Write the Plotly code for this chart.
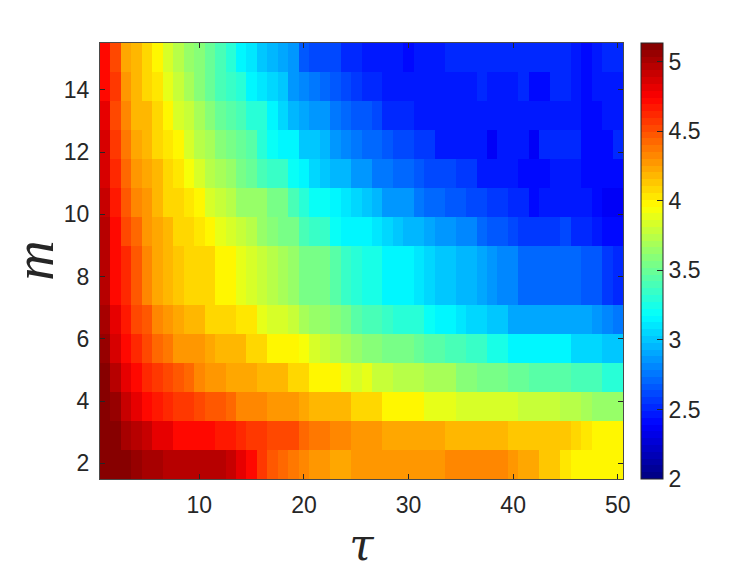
import plotly.graph_objects as go

tau = list(range(1, 51))
x_ticks = [10, 20, 30, 40, 50]
y_ticks = [2, 4, 6, 8, 10, 12, 14]
cbar_ticks = [2, 2.5, 3, 3.5, 4, 4.5, 5]
cbar_labels = ["2", "2.5", "3", "3.5", "4", "4.5", "5"]
z_min = 2.0
z_max = 5.134
y_low = 1.5
y_high = 15.5

m15 = [4.74,4.5,4.25,4.16,4.08,3.96,3.84,3.72,3.66,3.57,3.49,3.38,3.32,3.175,3.1,3.0,2.95,2.92,2.85,2.68,2.62,2.6,2.6,2.5,2.5,
       2.48,2.48,2.48,2.48,2.44,2.47,2.47,2.47,2.53,2.53,2.53,2.53,2.53,2.53,2.53,2.53,2.53,2.53,2.53,2.53,2.47,2.44,2.48,2.53,2.53]
m14 = [4.74,4.55,4.28,4.16,4.1,4.04,3.9,3.78,3.67,3.6,3.5,3.38,3.35,3.29,3.175,3.12,3.03,3.0,2.87,2.82,2.76,2.72,2.65,2.6,2.57,
       2.53,2.53,2.45,2.45,2.45,2.45,2.45,2.45,2.45,2.45,2.45,2.5,2.46,2.46,2.46,2.5,2.44,2.44,2.5,2.5,2.46,2.42,2.47,2.47,2.47]
m13 = [4.81,4.5,4.35,4.2,4.16,4.08,3.96,3.82,3.78,3.67,3.58,3.47,3.46,3.38,3.31,3.28,3.15,3.06,2.96,2.92,2.87,2.84,2.78,2.73,2.68,
       2.68,2.6,2.52,2.52,2.52,2.45,2.45,2.45,2.45,2.45,2.45,2.45,2.45,2.45,2.45,2.45,2.45,2.45,2.45,2.45,2.45,2.42,2.42,2.47,2.47]
m12 = [4.86,4.58,4.37,4.24,4.16,4.1,4.02,4.0,3.85,3.76,3.7,3.58,3.55,3.47,3.43,3.32,3.22,3.175,3.13,2.99,2.98,2.94,2.86,2.8,2.75,
       2.71,2.71,2.65,2.62,2.62,2.56,2.56,2.47,2.47,2.47,2.47,2.47,2.39,2.46,2.46,2.46,2.39,2.49,2.49,2.49,2.49,2.43,2.43,2.43,2.49]
m11 = [4.88,4.6,4.4,4.3,4.22,4.17,4.07,4.04,3.92,3.85,3.76,3.67,3.63,3.52,3.49,3.4,3.35,3.33,3.22,3.17,3.06,3.02,2.97,2.94,2.87,
       2.84,2.76,2.76,2.7,2.7,2.66,2.6,2.6,2.6,2.54,2.54,2.47,2.47,2.47,2.47,2.4,2.4,2.4,2.47,2.47,2.47,2.42,2.42,2.42,2.42]
m10 = [4.93,4.67,4.47,4.35,4.27,4.17,4.1,4.07,4.02,3.96,3.85,3.8,3.76,3.66,3.63,3.63,3.55,3.52,3.4,3.29,3.22,3.2,3.13,3.09,3.04,
       2.99,2.94,2.87,2.84,2.84,2.78,2.72,2.72,2.68,2.68,2.62,2.62,2.56,2.56,2.5,2.5,2.44,2.48,2.48,2.48,2.48,2.48,2.43,2.37,2.37]
m9 = [4.96,4.7,4.5,4.4,4.3,4.22,4.16,4.1,4.07,4.02,3.96,3.89,3.86,3.81,3.76,3.63,3.6,3.56,3.52,3.42,3.37,3.33,3.2,3.17,3.14,
      3.16,3.09,3.03,3.0,2.97,2.97,2.89,2.84,2.84,2.8,2.8,2.71,2.66,2.66,2.6,2.54,2.54,2.54,2.54,2.6,2.52,2.52,2.45,2.41,2.41]
m8 = [4.96,4.74,4.6,4.45,4.33,4.24,4.2,4.14,4.1,4.1,4.07,4.0,3.96,3.9,3.84,3.78,3.76,3.7,3.65,3.52,3.52,3.52,3.45,3.37,3.31,
      3.27,3.23,3.17,3.14,3.14,3.1,3.05,3.0,3.0,2.97,2.97,2.93,2.87,2.8,2.8,2.7,2.7,2.7,2.7,2.7,2.7,2.65,2.65,2.55,2.53]
m7 = [5.02,4.82,4.66,4.5,4.46,4.32,4.28,4.24,4.2,4.16,4.1,4.1,4.06,4.02,4.02,3.9,3.86,3.86,3.81,3.7,3.66,3.63,3.57,3.52,3.45,
      3.4,3.4,3.35,3.31,3.31,3.28,3.2,3.17,3.17,3.1,3.05,3.05,3.02,2.98,2.93,2.93,2.93,2.9,2.9,2.9,2.9,2.9,2.85,2.8,2.78]
m6 = [5.04,4.88,4.7,4.6,4.5,4.44,4.38,4.28,4.28,4.28,4.22,4.16,4.16,4.16,4.1,4.06,4.0,3.96,3.96,3.92,3.86,3.81,3.75,3.7,3.62,
      3.6,3.6,3.55,3.53,3.53,3.5,3.44,3.44,3.41,3.41,3.37,3.33,3.25,3.25,3.17,3.17,3.13,3.13,3.13,3.13,3.07,3.07,3.03,3.0,3.0]
m5 = [5.1,4.98,4.8,4.72,4.62,4.55,4.5,4.45,4.4,4.33,4.28,4.28,4.24,4.24,4.24,4.2,4.16,4.16,4.1,4.06,4.0,4.0,3.96,3.9,3.84,
      3.87,3.81,3.81,3.76,3.76,3.72,3.67,3.67,3.67,3.6,3.6,3.56,3.53,3.53,3.5,3.5,3.46,3.46,3.46,3.46,3.41,3.38,3.38,3.3,3.3]
m4 = [5.134,5.05,4.92,4.8,4.74,4.67,4.63,4.57,4.57,4.5,4.45,4.45,4.4,4.33,4.33,4.33,4.3,4.3,4.3,4.24,4.2,4.2,4.16,4.16,4.08,
      4.07,4.07,4.0,4.0,4.0,3.96,3.9,3.9,3.9,3.85,3.85,3.85,3.82,3.82,3.82,3.77,3.77,3.77,3.77,3.72,3.72,3.68,3.62,3.62,3.62]
m3 = [5.134,5.1,5.0,4.95,4.92,4.82,4.82,4.74,4.7,4.7,4.7,4.66,4.66,4.62,4.58,4.58,4.5,4.5,4.5,4.43,4.38,4.38,4.35,4.35,4.3,
      4.28,4.28,4.25,4.25,4.25,4.21,4.21,4.21,4.17,4.17,4.17,4.17,4.17,4.17,4.12,4.12,4.12,4.12,4.12,4.12,4.07,4.03,3.96,3.96,3.96]
m2 = [5.134,5.134,5.1,5.06,5.02,5.02,4.95,4.95,4.95,4.95,4.95,4.95,4.9,4.8,4.74,4.58,4.45,4.44,4.38,4.33,4.28,4.28,4.24,4.24,4.3,
      4.3,4.3,4.3,4.3,4.3,4.3,4.3,4.3,4.35,4.35,4.35,4.35,4.35,4.35,4.3,4.25,4.22,4.13,4.13,4.05,4.0,3.96,3.96,3.96,3.96]

# The picture has 15 equal bands: the band around m = 8 is drawn twice as tall.
z_rows = [m2, m3, m4, m5, m6, m7, m8, m8, m9, m10, m11, m12, m13, m14, m15]
band = (y_high - y_low) / len(z_rows)
row_centres = [y_low + (i + 0.5) * band for i in range(len(z_rows))]


def jet_rgb(t):
    def ch(c):
        return max(0.0, min(1.0, 1.5 - abs(4 * t - c)))
    return f"rgb({round(255 * ch(3))},{round(255 * ch(2))},{round(255 * ch(1))})"


levels = 64
jet64 = []
for i in range(levels):
    colour = jet_rgb((i + 0.5) / levels)
    jet64.append([i / levels, colour])
    jet64.append([(i + 1) / levels, colour])

text_colour = "#262626"
line_colour = "#4a4a4a"

fig = go.Figure(go.Heatmap(
    x=tau, y=row_centres, z=z_rows,
    zmin=z_min, zmax=z_max,
    colorscale=jet64,
    zsmooth=False,
    colorbar=dict(
        x=1.0346, xanchor="left", xpad=0, ypad=0,
        y=0.5, yanchor="middle", len=1, lenmode="fraction",
        thickness=21.5, thicknessmode="pixels",
        tickmode="array", tickvals=cbar_ticks, ticktext=cbar_labels,
        ticks="inside", ticklen=6, tickwidth=1, tickcolor=text_colour,
        outlinecolor=text_colour, outlinewidth=1,
        tickfont=dict(family="Liberation Sans", size=23, color=text_colour),
    ),
))

axis_common = dict(
    showgrid=False, zeroline=False, ticks="inside", ticklen=5, tickwidth=1,
    tickcolor=text_colour, showline=True, linecolor=line_colour, linewidth=1,
    mirror="ticks", tickmode="array", ticklabelstandoff=5,
    tickfont=dict(family="Liberation Sans", size=23, color=text_colour),
)

fig.update_layout(
    width=747, height=574,
    margin=dict(l=100.2, r=124.3, t=43, b=94.7, autoexpand=False),
    paper_bgcolor="white", plot_bgcolor="white",
    xaxis=dict(axis_common, range=[0.5, 50.5], tickvals=x_ticks,
               title=dict(text="<i>τ</i>", standoff=12,
                          font=dict(family="DejaVu Serif", size=44, color=text_colour))),
    yaxis=dict(axis_common, range=[y_low, y_high], tickvals=y_ticks),
    annotations=[dict(
        text="<i>m</i>", textangle=-90, showarrow=False,
        xref="paper", yref="paper", x=-0.1267, y=0.5,
        xanchor="center", yanchor="middle",
        font=dict(family="Liberation Serif", size=56, color=text_colour),
    )],
)

fig.write_html(
    "out.html",
    config={"displayModeBar": False},
    post_script="document.body.style.margin='0';document.body.style.overflow='hidden';",
)
